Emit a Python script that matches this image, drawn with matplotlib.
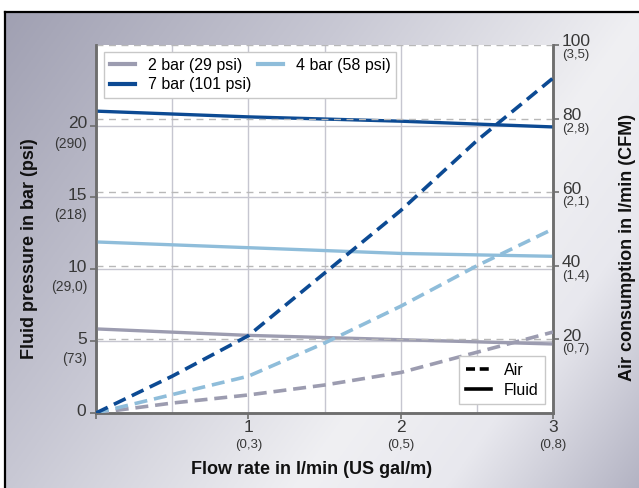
import numpy as np
import matplotlib.pyplot as plt
from matplotlib.lines import Line2D

plt.rcParams['font.family'] = ['Liberation Sans', 'DejaVu Sans']

# Flow rate (l/min)
flow_air = [0, 0.5, 1, 1.5, 2, 2.5, 3]
flow_fluid = [0, 1, 2, 3]

# Air consumption (l/min) per pressure
air_2bar = [0, 2.7, 4.9, 7.6, 11, 16.5, 22]
air_4bar = [0, 5, 10, 19, 29, 40, 50]
air_7bar = [0, 10, 21, 38, 55, 74, 91]

# Fluid pressure (bar) per pressure setting
fluid_2bar = [5.85, 5.4, 5.1, 4.8]
fluid_4bar = [11.9, 11.5, 11.1, 10.9]
fluid_7bar = [21.0, 20.6, 20.3, 19.9]

series_labels = ['2 bar (29 psi)', '4 bar (58 psi)', '7 bar (101 psi)']
colors = ['#9c9cb0', '#8fbdda', '#0c4a93']

left_ticks = [5, 10, 15, 20]
left_sub = ['(73)', '(29,0)', '(218)', '(290)']
right_ticks = [20, 40, 60, 80, 100]
right_sub = ['(0,7)', '(1,4)', '(2,1)', '(2,8)', '(3,5)']
x_ticks = [1, 2, 3]
x_sub = ['(0,3)', '(0,5)', '(0,8)']

W, H = 639, 488
fig = plt.figure(figsize=(W / 100, H / 100), dpi=100)
fig.patch.set_facecolor('white')

# gradient background with black frame
bg = fig.add_axes([5 / W, 0, 1, (H - 12) / H], zorder=-5)
u = np.linspace(0, 1, 320)[None, :]
v = np.linspace(0, 1, 240)[:, None]
s = 0.65 * u + 0.35 * v
stops = [0, 0.35, 0.65, 0.8, 1.0]
cols = np.array([[0xa0, 0xa0, 0xb2], [0xc8, 0xc8, 0xd4], [0xf0, 0xf0, 0xf3],
                 [0xe8, 0xe8, 0xee], [0xb2, 0xb2, 0xc2]]) / 255
img = np.dstack([np.interp(s, stops, cols[:, k]) for k in range(3)])
bg.imshow(img, extent=[0, 1, 0, 1], aspect='auto', origin='upper')
bg.set_xticks([])
bg.set_yticks([])
for side in ['left', 'top']:
    bg.spines[side].set_color('black')
    bg.spines[side].set_linewidth(1.6)
bg.spines['bottom'].set_visible(False)
bg.spines['right'].set_visible(False)

L, R, T, B = 96, 553, 45, 413
ax = fig.add_axes([L / W, 1 - B / H, (R - L) / W, (B - T) / H])
ax.set_facecolor('white')
ax.set_xlim(0, 3)
ax.set_ylim(0, 25.6)
ax2 = ax.twinx()
ax2.set_ylim(0, 100)

grid_c = '#c6c6d0'
for xv in [0.5, 1, 1.5, 2, 2.5]:
    ax.axvline(xv, color=grid_c, lw=1, zorder=0)
for yv in left_ticks:
    ax.axhline(yv, color=grid_c, lw=1, zorder=0)
for yv in right_ticks:
    ax2.axhline(yv, color='#b8b8b8', lw=1, ls=(0, (5, 4)), zorder=0)

fluid = [fluid_2bar, fluid_4bar, fluid_7bar]
air = [air_2bar, air_4bar, air_7bar]
for i in range(3):
    ax.plot(flow_fluid, fluid[i], color=colors[i], lw=2.4, solid_capstyle='butt', zorder=3)
    ax2.plot(flow_air, air[i], color=colors[i], lw=2.6, dashes=(3.6, 1.9), zorder=3)

spine_c = '#6e6e6e'
for a in (ax, ax2):
    a.spines['top'].set_visible(False)
    for side in ['left', 'right', 'bottom']:
        a.spines[side].set_color(spine_c)
        a.spines[side].set_linewidth(1.8)
    a.tick_params(colors=spine_c, length=4, width=1.2, labelsize=0)

ax.set_xticks([0] + x_ticks)
ax.set_xticklabels([])
ax.set_yticks([0] + left_ticks)
ax.set_yticklabels([])
ax2.set_yticks(right_ticks)
ax2.set_yticklabels([])

px = 0.72  # points per pixel
txt_c = '#383838'
# left tick labels
ax.annotate('0', xy=(0, 0), xycoords=('axes fraction', 'data'), xytext=(-10 * px, 1 * px),
            textcoords='offset points', ha='right', va='center', fontsize=12.5, color=txt_c)
for val, sub in zip(left_ticks, left_sub):
    ax.annotate(str(val), xy=(0, val), xycoords=('axes fraction', 'data'), xytext=(-9 * px, 2 * px),
                textcoords='offset points', ha='right', va='center', fontsize=12.5, color=txt_c)
    ax.annotate(sub, xy=(0, val), xycoords=('axes fraction', 'data'), xytext=(-9 * px, -18 * px),
                textcoords='offset points', ha='right', va='center', fontsize=10, color=txt_c)
# right tick labels
for val, sub in zip(right_ticks, right_sub):
    ax2.annotate(str(val), xy=(1, val), xycoords=('axes fraction', 'data'), xytext=(9 * px, 3 * px),
                 textcoords='offset points', ha='left', va='center', fontsize=12.5, color=txt_c)
    ax2.annotate(sub, xy=(1, val), xycoords=('axes fraction', 'data'), xytext=(9 * px, -10 * px),
                 textcoords='offset points', ha='left', va='center', fontsize=9.5, color=txt_c)
# bottom tick labels
for val, sub in zip(x_ticks, x_sub):
    ax.annotate(str(val), xy=(val, 0), xycoords=('data', 'axes fraction'), xytext=(0, -15 * px),
                textcoords='offset points', ha='center', va='center', fontsize=12.5, color=txt_c)
    ax.annotate(sub, xy=(val, 0), xycoords=('data', 'axes fraction'), xytext=(0, -32 * px),
                textcoords='offset points', ha='center', va='center', fontsize=9.5, color=txt_c)

fig.text(312 / W, 1 - 470 / H, 'Flow rate in l/min (US gal/m)', ha='center', va='center',
         fontsize=13, fontweight='bold', color='#111111')
fig.text(30 / W, 1 - 249 / H, 'Fluid pressure in bar (psi)', ha='center', va='center',
         rotation=90, fontsize=13, fontweight='bold', color='#111111')
fig.text(627 / W, 1 - 247 / H, 'Air consumption in l/min (CFM)', ha='center', va='center',
         rotation=90, fontsize=13, fontweight='bold', color='#111111')

# pressure legend (column-wise fill: 2 bar, 7 bar | 4 bar)
order = [0, 2, 1]
h1 = [Line2D([], [], color=colors[i], lw=3) for i in order]
leg1 = ax2.legend(h1, [series_labels[i] for i in order], ncol=2, loc='upper left',
                  bbox_to_anchor=(8 / 457, 361 / 368), borderaxespad=0, fontsize=11.5,
                  handlelength=1.6, handletextpad=0.8, columnspacing=0.4, labelspacing=0.3,
                  fancybox=False, edgecolor='#c8c8c8', framealpha=1, borderpad=0.35)
leg1.get_frame().set_linewidth(1)
ax2.add_artist(leg1)

h2 = [Line2D([], [], color='black', lw=2.6, dashes=(2.5, 1.3)), Line2D([], [], color='black', lw=2.6)]
leg2 = ax2.legend(h2, ['Air', 'Fluid'], loc='lower right', bbox_to_anchor=(449 / 457, 9 / 368),
                  borderaxespad=0, fontsize=11.5, handlelength=1.6, handletextpad=0.8,
                  labelspacing=0.3, fancybox=False, edgecolor='#c8c8c8', framealpha=1, borderpad=0.4)
leg2.get_frame().set_linewidth(1)

fig.savefig('out.png', dpi=100)
